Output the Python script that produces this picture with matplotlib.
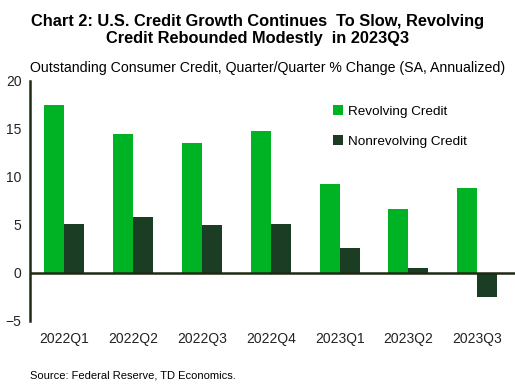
#!/usr/bin/env python3
import numpy as np
import matplotlib.pyplot as plt

plt.rcParams['font.family'] = ['Liberation Sans', 'DejaVu Sans']

quarters = ["2022Q1", "2022Q2", "2022Q3", "2022Q4", "2023Q1", "2023Q2", "2023Q3"]
revolving = [17.5, 14.5, 13.5, 14.8, 9.3, 6.7, 8.9]
nonrevolving = [5.1, 5.8, 5.0, 5.1, 2.6, 0.5, -2.5]

GREEN = "#00b324"
DARK = "#1a3d24"
AXIS = "#1f2a12"


def main():
    fig = plt.figure(figsize=(5.15, 3.85), dpi=100)
    ax = fig.add_axes([30 / 515, 64 / 385, 485 / 515, 240 / 385])

    x = np.arange(len(quarters))
    w = 0.29
    ax.bar(x - w / 2, revolving, w, color=GREEN, label="Revolving Credit")
    ax.bar(x + w / 2, nonrevolving, w, color=DARK, label="Nonrevolving Credit")

    ax.set_xlim(-0.5, 6.55)
    ax.set_ylim(-5, 20)
    ax.set_yticks([-5, 0, 5, 10, 15, 20])
    ax.set_xticks(x)
    ax.set_xticklabels(quarters)
    ax.tick_params(length=0, labelsize=10, colors="#222222")
    ax.tick_params(axis="x", pad=8)
    ax.tick_params(axis="y", pad=6)

    for s in ["top", "right", "bottom"]:
        ax.spines[s].set_visible(False)
    ax.spines["left"].set_color(AXIS)
    ax.spines["left"].set_linewidth(1.8)
    ax.axhline(0, color=AXIS, lw=1.8, zorder=3)

    ax.legend(loc="upper left", bbox_to_anchor=(0.6, 0.95), frameon=False,
              fontsize=9.7, handlelength=0.7, handleheight=0.7,
              handletextpad=0.4, labelspacing=1.3)

    fig.text(0.5, 1 - 30 / 385, "Chart 2: U.S. Credit Growth Continues  To Slow, Revolving\n"
             "Credit Rebounded Modestly  in 2023Q3", ha="center", va="center",
             fontsize=11.8, fontweight="bold", linespacing=1.1)
    fig.text(30 / 515, 1 - 68 / 385,
             "Outstanding Consumer Credit, Quarter/Quarter % Change (SA, Annualized)",
             ha="left", va="center", fontsize=10.2)
    fig.text(30 / 515, 1 - 376 / 385, "Source: Federal Reserve, TD Economics.",
             ha="left", va="center", fontsize=8)

    fig.savefig("out.png", dpi=100)


if __name__ == "__main__":
    main()
